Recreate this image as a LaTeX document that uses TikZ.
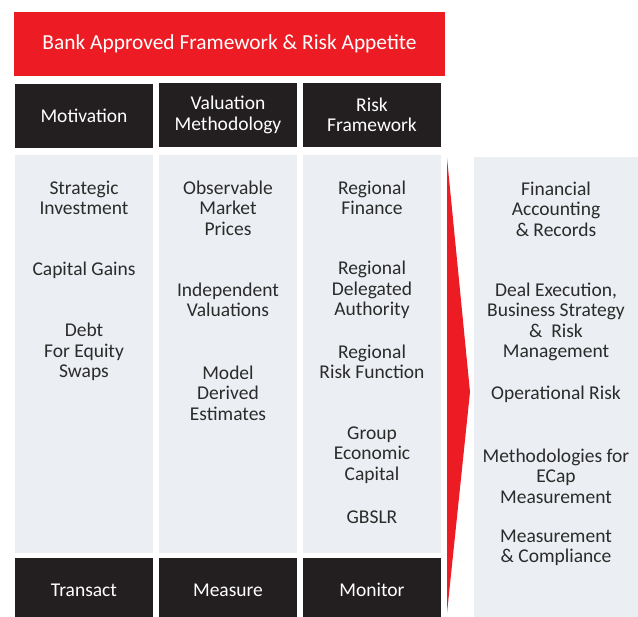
\documentclass[tikz,border=0pt]{standalone}
\usepackage{fontspec}
\setmainfont{Carlito}
\usepackage{xcolor}
\definecolor{bankred}{HTML}{ED1C24}
\definecolor{bankblack}{HTML}{231F20}
\definecolor{bankgrey}{HTML}{EBEEF2}
\definecolor{banktext}{HTML}{2B2B2B}
\usetikzlibrary{calc}

\tikzset{
	headbox/.style={fill=bankblack, text=white, minimum width=138pt, minimum height=64pt,
		inner sep=0pt, align=center, font=\fontsize{19.5}{20.5}\selectfont},
	bodytext/.style={text=banktext, align=center, inner sep=0pt, font=\fontsize{19.5}{20.5}\selectfont},
}

\begin{document}
\begin{tikzpicture}[x=1pt, y=-1pt]
	\def\top{155};
	\def\bot{553};
	
	\useasboundingbox (0,0) rectangle (638,617);
	\fill [white] (0,0) rectangle (638,617);
	
	% banner
	\node [fill=bankred, text=white, minimum width=431pt, minimum height=64pt, inner sep=0pt,
		font=\fontsize{21.4}{23}\selectfont] (banner) at (229.5,44) {Bank Approved Framework \& Risk Appetite};
	
	% column headers
	\node [headbox] (motivation) at (84,116) {Motivation};
	\node [headbox] (valuation) at (228,115) {Valuation\\Methodology};
	\node [headbox] (riskfw) at (372,115) {Risk\\Framework};
	
	% grey bodies
	\begin{scope}[bankgrey]
		\fill (15,\top) rectangle (153,\bot);
		\fill (159,\top) rectangle (297,\bot);
		\fill (303,\top) rectangle (441,\bot);
		\fill (474,157) rectangle (638,617);
	\end{scope}
	
	% footers
	\node [headbox] (transact) at (84,590) {Transact};
	\node [headbox] (measure) at (228,590) {Measure};
	\node [headbox] (monitor) at (372,590) {Monitor};
	
	% red wedge
	\fill [bankred] (447,158) -- (470,392) -- (447,613) -- cycle;
	
	% motivation column
	\node [bodytext] (strategic) at (84,198) {Strategic\\Investment};
	\node [bodytext] (gains) at (84,270) {Capital Gains};
	\node [bodytext] (debt) at (84,352) {Debt\\For Equity\\Swaps};
	
	% valuation column
	\node [bodytext] (observable) at (228,208) {Observable\\Market\\Prices};
	\node [bodytext] (independent) at (228,300) {Independent\\Valuations};
	\node [bodytext] (model) at (228,393) {Model\\Derived\\Estimates};
	
	% risk framework column
	\node [bodytext] (finance) at (372,198) {Regional\\Finance};
	\node [bodytext] (delegated) at (372,290) {Regional\\Delegated\\Authority};
	\node [bodytext] (riskfn) at (372,362) {Regional\\Risk Function};
	\node [bodytext] (ecap) at (372,455) {Group\\Economic\\Capital};
	\node [bodytext] (gbslr) at (372,517) {GBSLR};
	
	% right panel
	\node [bodytext] (accounting) at (556,209) {Financial\\Accounting\\\& Records};
	\node [bodytext] (deal) at (556,322) {Deal Execution,\\Business Strategy\\\&~~Risk\\Management};
	\node [bodytext] (oprisk) at (556,394) {Operational Risk};
	\node [bodytext] (methods) at (556,476) {Methodologies for\\ECap\\Measurement};
	\node [bodytext] (compliance) at (556,548) {Measurement\\\& Compliance};
\end{tikzpicture}
\end{document}
